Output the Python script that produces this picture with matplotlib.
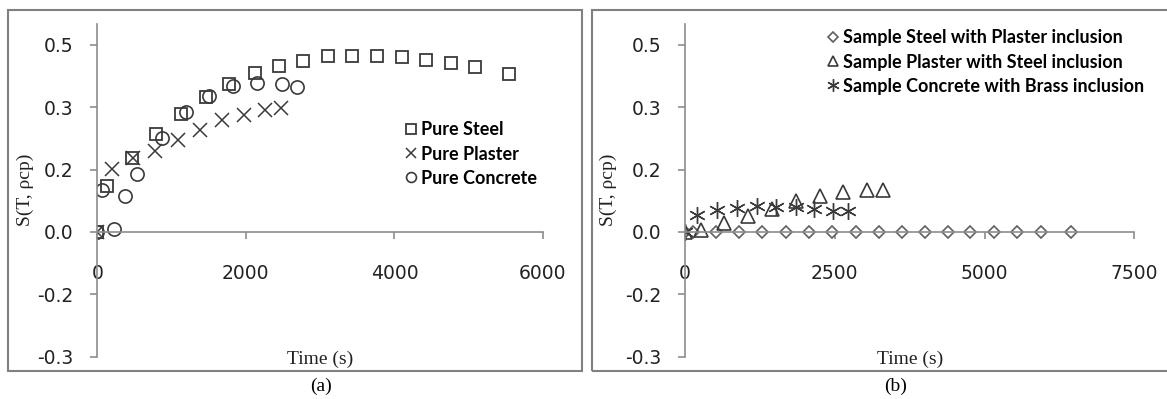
#S(T, rho cp) versus time for the pure samples (a) and the samples with inclusions (b)
import matplotlib
matplotlib.use("Agg")
import matplotlib.pyplot as plt
import matplotlib.patches as mpatches

#panel (a) data, pure samples
steel_t = [0, 135, 462, 790, 1121, 1458, 1776, 2117, 2444, 2771, 3107, 3435, 3771, 4102, 4425, 4767, 5090, 5537]
steel_s = [0, 0.111, 0.178, 0.236, 0.284, 0.325, 0.356, 0.381, 0.400, 0.412, 0.422, 0.424, 0.424, 0.421, 0.414, 0.406, 0.397, 0.380]
plaster_t = [0, 202, 484, 776, 1081, 1381, 1673, 1973, 2255, 2471]
plaster_s = [0, 0.151, 0.178, 0.194, 0.220, 0.246, 0.268, 0.282, 0.294, 0.298]
concrete_t = [0, 59, 225, 373, 538, 866, 1189, 1502, 1829, 2152, 2480, 2695]
concrete_s = [0, 0.100, 0.008, 0.087, 0.139, 0.226, 0.288, 0.328, 0.350, 0.358, 0.356, 0.348]

#panel (b) data, samples with inclusions
steel_plaster_t = [0, 130, 518, 902, 1286, 1682, 2066, 2455, 2847, 3240, 3616, 4008, 4387, 4760, 5165, 5539, 5940, 6446]
steel_plaster_s = [0, 0, 0, 0, 0, 0, 0, 0, 0, 0, 0, 0, 0, 0, 0, 0, 0, 0]
plaster_steel_t = [0, 262, 657, 1057, 1458, 1848, 2254, 2644, 3045, 3302]
plaster_steel_s = [0, 0.004, 0.022, 0.038, 0.054, 0.074, 0.086, 0.095, 0.100, 0.102]
concrete_brass_t = [0, 195, 540, 863, 1197, 1515, 1849, 2154, 2477, 2727]
concrete_brass_s = [0, 0.040, 0.052, 0.058, 0.062, 0.059, 0.060, 0.055, 0.050, 0.050]

#excel style y axis: major unit 0.15 shown with one decimal
y_ticks = [-0.3, -0.15, 0, 0.15, 0.3, 0.45]
y_tick_labels = ["-0.3", "-0.2", "0.0", "0.2", "0.3", "0.5"]
xa_ticks = [0, 2000, 4000, 6000]
xb_ticks = [0, 2500, 5000, 7500]

W, H = 1167, 399
fig = plt.figure(figsize=(W / 100, H / 100), dpi=100)

def fx(px):
    return px / W

def fy(py):
    return 1 - py / H

grey = "#8c8c8c"
mk = "#3a3a3a"
serif = "Liberation Serif"

def setup(ax, xmax, xticks):
    ax.set_xlim(0, xmax)
    ax.set_ylim(-0.3, 0.5)
    ax.spines["left"].set_position(("data", 0))
    ax.spines["bottom"].set_position(("data", 0))
    ax.spines["top"].set_visible(False)
    ax.spines["right"].set_visible(False)
    for s in ["left", "bottom"]:
        ax.spines[s].set_color(grey)
        ax.spines[s].set_linewidth(1.2)
    ax.set_xticks(xticks)
    ax.set_yticks(y_ticks)
    ax.set_yticklabels(y_tick_labels)
    ax.tick_params(axis="both", direction="out", length=5, width=1.2, color=grey,
                   labelsize=13.5, labelcolor="#222222")
    ax.tick_params(axis="x", pad=18)
    ax.tick_params(axis="y", pad=12)
    ax.patch.set_alpha(0)
    ax.text(0.5, -0.008, "Time (s)", transform=ax.transAxes, ha="center", va="center",
            fontsize=14, family=serif, color="#222222")

#panel borders
fig.add_artist(mpatches.Rectangle((fx(8), fy(371)), fx(582) - fx(8), fy(10) - fy(371),
                                  transform=fig.transFigure, fill=False, ec="#808080", lw=1.5))
fig.add_artist(mpatches.Rectangle((fx(592), fy(371)), fx(1180) - fx(592), fy(10) - fy(371),
                                  transform=fig.transFigure, fill=False, ec="#808080", lw=1.5))

bottom = fy(356.7)
height = fy(24) - fy(356.7)
ax1 = fig.add_axes([fx(97.3), bottom, fx(543) - fx(97.3), height])
ax2 = fig.add_axes([fx(685), bottom, fx(1134.3) - fx(685), height])
setup(ax1, 6000, xa_ticks)
setup(ax2, 7500, xb_ticks)

leg_font = {"family": "Lato", "weight": "bold", "size": 13}

#panel (a)
ax1.plot(steel_t, steel_s, ls="none", marker="s", ms=9, mfc="none", mec=mk, mew=1.3, label="Pure Steel")
ax1.plot(plaster_t, plaster_s, ls="none", marker="x", ms=9.5, mec=mk, mew=1.1, label="Pure Plaster")
ax1.plot(concrete_t, concrete_s, ls="none", marker="o", ms=9.5, mfc="none", mec=mk, mew=1.2, label="Pure Concrete")
ax1.legend(loc="center left", bbox_to_anchor=(fx(397), fy(154)), bbox_transform=fig.transFigure,
           frameon=False, handlelength=0.6, handletextpad=0.25, labelspacing=0.4, markerscale=0.75,
           borderpad=0, prop=leg_font)

#panel (b)
ax2.plot(steel_plaster_t, steel_plaster_s, ls="none", marker="D", ms=6.5, mfc="white", mec="#606060", mew=1.2,
         label="Sample Steel with Plaster inclusion")
ax2.plot(plaster_steel_t, plaster_steel_s, ls="none", marker="^", ms=10, mfc="none", mec=mk, mew=1.2,
         label="Sample Plaster with Steel inclusion")
ax2.plot(concrete_brass_t, concrete_brass_s, ls="none", marker=(6, 2, 0), ms=12, mec=mk, mew=1.0,
         label="Sample Concrete with Brass inclusion")
ax2.legend(loc="center left", bbox_to_anchor=(fx(819), fy(62)), bbox_transform=fig.transFigure,
           frameon=False, handlelength=0.6, handletextpad=0.25, labelspacing=0.4, markerscale=0.75,
           borderpad=0, prop=leg_font)

#y labels and captions
fig.text(fx(25), fy(190), "S(T, ρcp)", rotation=90, ha="center", va="center", fontsize=14, family=serif, color="#222222")
fig.text(fx(608), fy(190), "S(T, ρcp)", rotation=90, ha="center", va="center", fontsize=14, family=serif, color="#222222")
fig.text(fx(321), fy(386), "(a)", ha="center", va="center", fontsize=14, family=serif)
fig.text(fx(896), fy(386), "(b)", ha="center", va="center", fontsize=14, family=serif)

fig.savefig("out.png", dpi=100)
